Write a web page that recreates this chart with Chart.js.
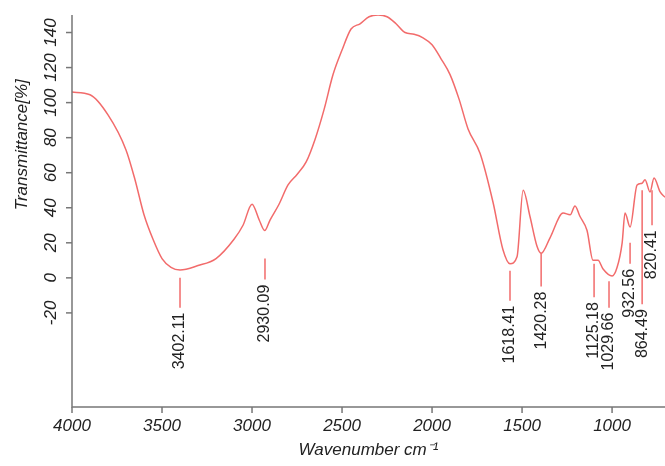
<!DOCTYPE html>
<html><head><meta charset="utf-8">
<script src="https://cdn.jsdelivr.net/npm/chart.js@4"></script>
<style>html,body{margin:0;padding:0;background:#fff}#w{width:665px;height:466px}</style>
</head><body><div id="w"><canvas id="c"></canvas></div>
<script>
const wavenumbers=[4000,3900,3800,3700,3650,3600,3550,3500,3450,3400,3300,3200,3100,3050,3000,2960,2930,2900,2850,2800,2750,2700,2650,2600,2550,2500,2450,2400,2350,2300,2250,2200,2150,2100,2050,2000,1950,1900,1850,1800,1733,1661,1606,1567,1528,1494,1456,1417,1394,1344,1272,1233,1206,1178,1139,1106,1078,1050,1000,972,944,928,900,861,833,817,789,767,733,706];
const transmittance=[106,104.5,93,73,56,36,22,11,6,4.5,7,11,22,30,42,33,27,33,42,53,59,66,79,96,116,130,142,145,149,150,149,145,140,139,137,133,125,116,102,85,71,43,16,8,12,50,35,18,14,23,37,36,41,35,27,10,10,5,1,6,20,37,29,53,54,56,49,57,49,46];
const peakPositions=[3400,2928,1567,1394,1100,1017,900,833,778];
const peakLabels=["3402.11","2930.09","1618.41","1420.28","1125.18","1029.66","932.56","864.49","820.41"];
const peakLineTop=[0,11,4,14,8,-2,20,50,50];
const peakLineBottom=[-17,-1,-13,-5,-11,-17,8,-15,30];
const yTicks=[-20,0,20,40,60,80,100,120,140];
const xTicks=[4000,3500,3000,2500,2000,1500,1000];
const red='#f26b6b', axisCol='#777';
const font='italic 17px "Liberation Sans", Arial, sans-serif';
const deco={id:'deco',afterDraw(ch){
 const c=ch.ctx,x=ch.scales.x,y=ch.scales.y,a=ch.chartArea;
 c.save();
 c.strokeStyle=axisCol;c.lineWidth=1.5;
 c.beginPath();c.moveTo(a.left,a.top);c.lineTo(a.left,a.bottom);c.lineTo(a.right,a.bottom);c.stroke();
 c.fillStyle='#222';c.font=font;
 yTicks.forEach(v=>{const py=y.getPixelForValue(v);c.beginPath();c.moveTo(a.left-6,py);c.lineTo(a.left,py);c.stroke();
  c.save();c.translate(a.left-12,py);c.rotate(-Math.PI/2);c.textAlign='center';c.textBaseline='bottom';c.fillText(String(v),0,0);c.restore();});
 xTicks.forEach(v=>{const px=x.getPixelForValue(v);c.beginPath();c.moveTo(px,a.bottom);c.lineTo(px,a.bottom+6);c.stroke();
  c.textAlign='center';c.textBaseline='top';c.fillText(String(v),px,a.bottom+11);});
 c.textAlign='center';c.textBaseline='top';c.fillText('Wavenumber cm\u207B\u00B9',(a.left+a.right)/2,a.bottom+35);
 c.save();c.translate(22,y.getPixelForValue(76));c.rotate(-Math.PI/2);c.textBaseline='middle';c.fillText('Transmittance[%]',0,0);c.restore();
 c.strokeStyle=red;c.lineWidth=1.5;c.font='16px "Liberation Sans", Arial, sans-serif';c.fillStyle='#222';
 peakPositions.forEach((p,i)=>{const px=x.getPixelForValue(p),t=y.getPixelForValue(peakLineTop[i]),b=y.getPixelForValue(peakLineBottom[i]);
  c.beginPath();c.moveTo(px,t);c.lineTo(px,b);c.stroke();
  c.save();c.translate(px,b+5);c.rotate(-Math.PI/2);c.textAlign='right';c.textBaseline='middle';c.fillText(peakLabels[i],0,0);c.restore();});
 c.restore();}};
new Chart(document.getElementById('c'),{type:'line',
 data:{datasets:[{data:wavenumbers.map((w,i)=>({x:w,y:transmittance[i]})),borderColor:red,borderWidth:1.5,pointRadius:0,cubicInterpolationMode:'monotone',fill:false}]},
 options:{responsive:true,maintainAspectRatio:false,animation:false,
  layout:{padding:{left:0,right:0,top:15,bottom:0}},
  plugins:{legend:{display:false},tooltip:{enabled:false}},
  scales:{x:{type:'linear',reverse:true,min:706,max:4000,grid:{display:false},border:{display:false},ticks:{display:false},afterFit(s){s.height=59;}},
   y:{min:-73.7,max:150,grid:{display:false},border:{display:false},ticks:{display:false},afterFit(s){s.width=72;}}}},
 plugins:[deco]});
</script></body></html>
